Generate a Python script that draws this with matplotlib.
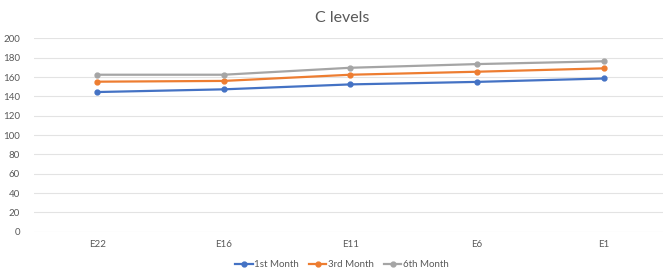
import numpy as np
import matplotlib.pyplot as plt

plt.rcParams['font.family'] = ['Lato', 'DejaVu Sans']

categories = ['E22', 'E16', 'E11', 'E6', 'E1']
month1 = [144.5, 147.3, 152.4, 155, 158.5]
month3 = [155.2, 156, 162.4, 165.5, 169]
month6 = [162.4, 162.4, 169.6, 173.4, 176.3]

fig = plt.figure(figsize=(6.63, 2.74), dpi=100)
ax = fig.add_axes([0.051, 0.154, 0.955, 0.706])

x = np.arange(len(categories))
ax.plot(x, month1, color='#4472C4', lw=1.6, marker='o', ms=3.5, label='1st Month')
ax.plot(x, month3, color='#ED7D31', lw=1.6, marker='o', ms=3.5, label='3rd Month')
ax.plot(x, month6, color='#A5A5A5', lw=1.6, marker='o', ms=3.5, label='6th Month')

ax.set_ylim(0, 200)
ax.set_yticks(range(0, 201, 20))
ax.set_xlim(-0.5, 4.5)
ax.set_xticks(x)
ax.set_xticklabels(categories)
ax.grid(axis='y', color='#E3E3E3', lw=0.8)
ax.set_axisbelow(True)
for s in ax.spines.values():
    s.set_visible(False)
ax.tick_params(length=0, labelsize=7, colors='#595959', pad=6)
ax.tick_params(axis='y', pad=10)

fig.text(0.516, 0.935, 'C levels', ha='center', va='center', fontsize=11.5, color='#595959')
fig.legend(loc='center', bbox_to_anchor=(0.516, 0.035), ncol=3, frameon=False,
           fontsize=7, labelcolor='#595959', handlelength=1.8, columnspacing=1.0,
           handletextpad=0.2)

fig.savefig('out.png', dpi=100)
